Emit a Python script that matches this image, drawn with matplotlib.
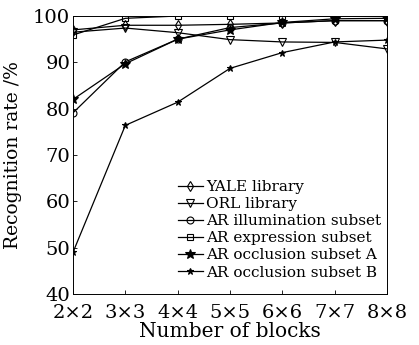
import numpy as np
import matplotlib
matplotlib.use("Agg")
import matplotlib.pyplot as plt

plt.rcParams['font.family'] = ['DejaVu Serif']
plt.rcParams['mathtext.fontset'] = 'dejavuserif'

blocks = ["2\u00d72", "3\u00d73", "4\u00d74", "5\u00d75", "6\u00d76", "7\u00d77", "8\u00d78"]
yale = [97.0, 98.0, 98.0, 98.2, 98.5, 99.0, 99.0]
orl = [96.5, 97.4, 96.4, 94.9, 94.4, 94.3, 92.9]
ar_illum = [79.1, 90.1, 95.0, 97.5, 98.5, 99.0, 99.0]
ar_expr = [95.9, 99.5, 100.0, 100.0, 100.0, 100.0, 100.0]
ar_occ_a = [82.0, 89.7, 95.0, 97.0, 98.6, 99.4, 99.5]
ar_occ_b = [49.0, 76.4, 81.4, 88.7, 92.1, 94.4, 94.8]

series = [
    (yale, "YALE library", "d", 5),
    (orl, "ORL library", "v", 6),
    (ar_illum, "AR illumination subset", "o", 5),
    (ar_expr, "AR expression subset", "s", 5),
    (ar_occ_a, "AR occlusion subset A", "*", 7),
    (ar_occ_b, "AR occlusion subset B", "*", 5),
]

fig = plt.figure(figsize=(4.19, 3.45), dpi=100)
ax = fig.add_axes([73/419, 1 - 294/345, (387-73)/419, (294-16)/345])
x = np.arange(len(blocks))
for vals, lab, mk, ms in series:
    filled = mk == "*"
    ax.plot(x, vals, color="black", lw=0.9, marker=mk, ms=ms,
            mfc="black" if filled else "none", mec="black", mew=0.8, label=lab)

ax.set_xlim(0, len(blocks) - 1)
ax.set_ylim(40, 100)
ax.set_xticks(x)
ax.set_xticklabels(blocks)
ax.set_yticks(np.arange(40, 101, 10))
ax.tick_params(direction="in", labelsize=14, length=3, width=0.6)
ax.tick_params(axis="x", pad=7.5)
ax.tick_params(axis="y", pad=2)
for s in ax.spines.values():
    s.set_linewidth(0.7)
ax.set_xlabel("Number of blocks", fontsize=14.5, labelpad=0)
ax.set_ylabel("Recognition rate /%", fontsize=13.5, labelpad=8)
ax.legend(loc="lower right", frameon=False, fontsize=11, handlelength=1.6,
          handletextpad=0.2, labelspacing=0.2, borderaxespad=0.0,
          bbox_to_anchor=(1.0, 0.03))
fig.savefig("out.png", dpi=100)
